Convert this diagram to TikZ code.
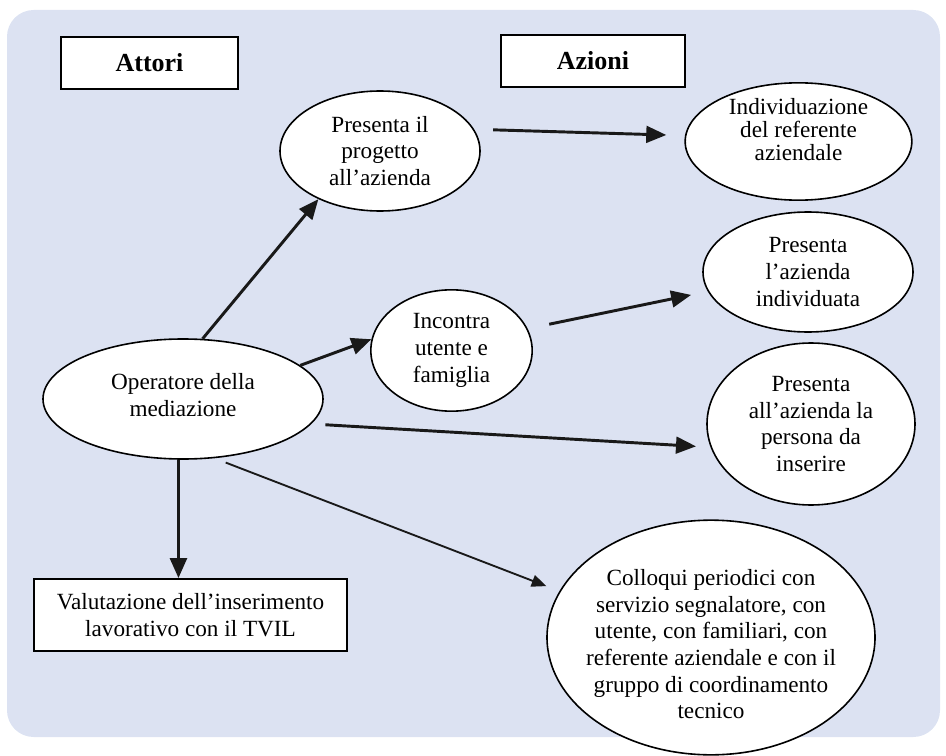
\documentclass[tikz,border=0pt]{standalone}
\usepackage{fontspec}
\setmainfont{Liberation Serif}
\usetikzlibrary{arrows.meta,shapes.geometric}

\definecolor{panel}{RGB}{220,226,242}

\tikzset{
  oval/.style={ellipse, draw=black, line width=1.2pt, fill=white, inner sep=0pt,
    align=center, font=\fontsize{17.4}{20}\selectfont},
  ovaltext/.style={inner sep=0pt, align=center, font=\fontsize{17.4}{20}\selectfont},
  titlebox/.style={rectangle, draw=black, line width=1.3pt, fill=white, inner sep=0pt,
    minimum width=133pt, minimum height=39pt, font=\bfseries\fontsize{19.5}{22}\selectfont},
  textbox/.style={rectangle, draw=black, line width=1.3pt, fill=white, inner sep=0pt,
    align=center, font=\fontsize{17.4}{20}\selectfont},
  arr/.style={line width=2.2pt, draw=black!90, -{Triangle[length=15pt,width=12.5pt]}},
  thinarr/.style={line width=1.4pt, draw=black!90, -{Triangle[length=11pt,width=9pt]}}
}

\begin{document}
\begin{tikzpicture}[x=0.75pt, y=-0.75pt]
  \useasboundingbox (0,0) rectangle (946,756);

  % background panel
  \fill[panel, rounded corners=20pt] (7,10) rectangle (940,737);

  % column titles
  \node[titlebox] (att) at (149.5,63) {Attori};
  \node[titlebox, minimum width=138pt] (azi) at (593,61) {Azioni};

  % actor
  \node[oval, minimum width=210pt, minimum height=90pt,
    label={[ovaltext, yshift=3pt]center:{Operatore della\\mediazione}}] (op) at (183,399) {};

  % actions
  \node[oval, minimum width=150pt, minimum height=90pt] (pp) at (380,151)
    {Presenta il\\progetto\\all'azienda};
  \node[oval, minimum width=170pt, minimum height=88pt,
    label={[ovaltext, yshift=9pt, font=\fontsize{17.4}{17.5}\selectfont]center:{Individuazione\\del referente\\aziendale}}]
    (ind) at (798.5,141.5) {};
  \node[oval, minimum width=121pt, minimum height=91pt] (inc) at (451.5,350.5)
    {Incontra\\utente e\\famiglia};
  \node[oval, minimum width=157.5pt, minimum height=90pt] (pal) at (808,272)
    {Presenta\\l'azienda\\individuata};
  \node[oval, minimum width=156pt, minimum height=121.5pt] (par) at (811,424)
    {Presenta\\all'azienda la\\persona da\\inserire};
  \node[oval, minimum width=246pt, minimum height=176pt,
    label={[ovaltext, yshift=-5pt]center:{Colloqui periodici con\\servizio segnalatore, con\\utente, con familiari, con\\referente aziendale e con il\\gruppo di coordinamento\\tecnico}}]
    (col) at (711,637.5) {};
  \node[textbox, minimum width=235pt, minimum height=54pt] (val) at (190.5,615)
    {Valutazione dell'inserimento\\lavorativo con il TVIL};

  % connectors
  \draw[arr] (op.72) -- (pp.218);
  \draw[arr, shorten <=14.25pt, shorten >=14pt] (pp.13) -- (ind.177);
  \draw[arr] (op.16) -- (inc.172);
  \draw[arr, shorten <=16.5pt, shorten >=12.75pt] (inc.16) -- (pal.191);
  \draw[arr, shorten <=10.5pt, shorten >=10.9pt] (op.349) -- (par.193);
  \draw[arr, line width=2.6pt] ([xshift=-3.4pt]op.south) -- ([xshift=-3.4pt]op.south |- val.north);
  \draw[thinarr, shorten <=9pt, shorten >=10.5pt] (op.298) -- (col.163.5);
\end{tikzpicture}
\end{document}
